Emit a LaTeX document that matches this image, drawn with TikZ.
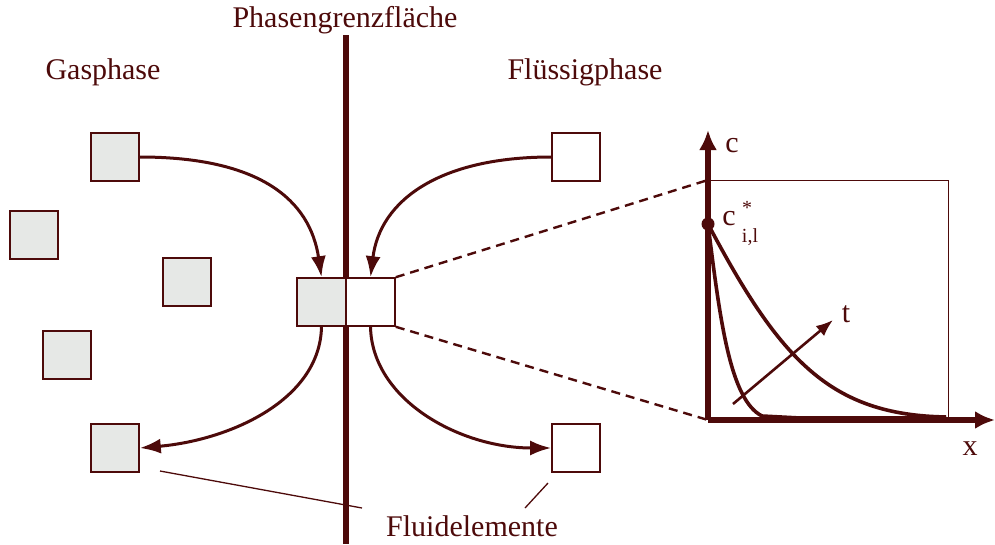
\documentclass[tikz,border=0pt]{standalone}
\usepackage{fontspec}
\setmainfont{Liberation Serif}
\usetikzlibrary{arrows.meta}
\definecolor{mr}{HTML}{4D0A0A}
\definecolor{gf}{HTML}{E6E8E6}
\begin{document}
\begin{tikzpicture}[x=1pt,y=-1pt,
  sq/.style={draw=mr,line width=1.6pt,minimum size=48pt,inner sep=0pt,fill=gf},
  wsq/.style={sq,fill=white},
  lbl/.style={text=mr,font=\fontsize{30}{34}\selectfont,inner sep=0pt},
  small/.style={text=mr,font=\fontsize{20}{22}\selectfont,inner sep=0pt},
  flow/.style={draw=mr,line width=3pt,-{Latex[length=21pt,width=15pt]}},
  dsh/.style={draw=mr,line width=2.4pt,dash pattern=on 9pt off 6pt},
  curve/.style={draw=mr,line width=3.6pt}]
\useasboundingbox (0,0) rectangle (995,544);
% interface
\draw[mr,line width=6pt] (346,35) -- (346,544);
\node[lbl] (pg) at (345,20) {Phasengrenzfläche};
\node[lbl] (gp) at (103,72) {Gasphase};
\node[lbl] (fp) at (585,72) {Flüssigphase};
% gas squares
\node[sq] (g1) at (115,157) {};
\node[sq] (g2) at (34,235) {};
\node[sq] (g3) at (187,282) {};
\node[sq] (g4) at (67,355) {};
\node[sq] (g5) at (115,448) {};
% center
\node[sq,minimum width=49pt] (cg) at (321.5,302) {};
\node[wsq,minimum width=49pt] (cw) at (370.5,302) {};
% liquid squares
\node[wsq] (l1) at (576,157) {};
\node[wsq] (l2) at (576,448) {};
% flow arrows
\draw[flow] (g1.east) .. controls (260,157) and (310,200) .. (cg.north);
\draw[flow] (l1.west) .. controls (440,157) and (380,200) .. (cw.north);
\draw[flow] (cg.south) .. controls (320,400) and (230,440) .. (g5.east);
\draw[flow] (cw.south) .. controls (372,400) and (460,448) .. (l2.west);
% plot
\coordinate (O) at (708,420);
\coordinate (top) at (708,180);
\draw[mr,line width=1pt] (top) rectangle (948,420);
\draw[dsh] (cw.north east) -- (top);
\draw[dsh] (cw.south east) -- (O);
\draw[mr,line width=6pt,-{Latex[length=20pt,width=18pt]}] (O) -- (708,130);
\draw[mr,line width=6pt,-{Latex[length=20pt,width=18pt]}] (O) -- (995,420);
\coordinate (cs) at (708,224);
\draw[curve] (cs) .. controls (720,320) and (730,400) .. (762,416) -- (800,418) -- (946,418);
\draw[curve] (cs) .. controls (780,360) and (830,415) .. (946,417);
\fill[mr] (cs) circle (6.5pt);
\draw[mr,line width=2.6pt,-{Latex[length=17pt,width=13pt]}] (733,404) -- (833,320);
\node[lbl] (cl) at (732,146) {c};
\node[lbl] (cc) at (729,219) {c};
\node[small] (cstar) at (747,208) {*};
\node[small] (cidx) at (750,237) {i,l};
\node[lbl] (tl) at (846,314) {t};
\node[lbl] (xl) at (970,449) {x};
% fluid elements
\node[lbl] (fe) at (472,526) {Fluidelemente};
\draw[mr,line width=1.3pt] (160,471) -- (362,508);
\draw[mr,line width=1.3pt] (548,483) -- (525,508);
\end{tikzpicture}
\end{document}
